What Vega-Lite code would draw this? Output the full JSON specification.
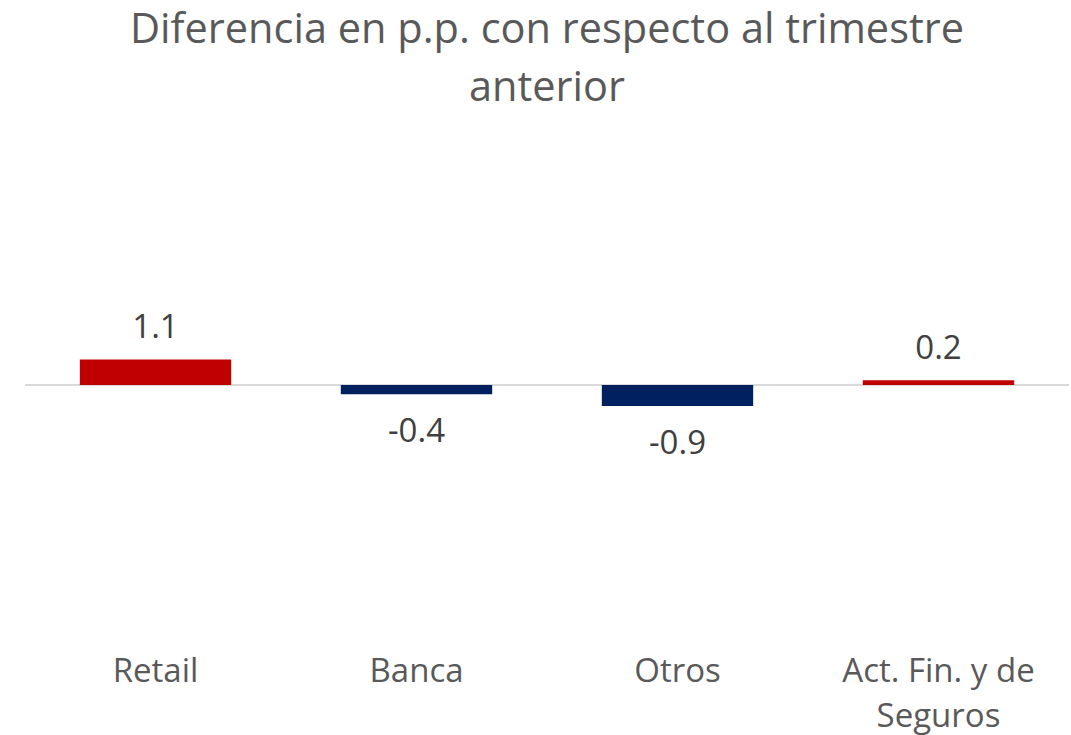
{
  "$schema": "https://vega.github.io/schema/vega-lite/v6.json",
  "width": 1044,
  "height": 464,
  "autosize": {"type": "none"},
  "padding": {"left": 25, "top": 153, "right": 2, "bottom": 118},
  "background": "white",
  "config": {"view": {"stroke": null}, "font": "Open Sans"},
  "title": {
    "text": ["Diferencia en p.p. con respecto al trimestre", "anterior"],
    "fontSize": 41.5,
    "font": "Open Sans",
    "fontWeight": "normal",
    "color": "#595959",
    "anchor": "middle",
    "lineHeight": 58,
    "baseline": "bottom",
    "offset": 2
  },
  "data": {
    "values": [
      {"categoria": "Retail", "valor": 1.1},
      {"categoria": "Banca", "valor": -0.4},
      {"categoria": "Otros", "valor": -0.9},
      {"categoria": "Act. Fin. y de Seguros", "valor": 0.2}
    ]
  },
  "encoding": {
    "x": {
      "field": "categoria",
      "type": "nominal",
      "sort": null,
      "scale": {"paddingInner": 0.42, "paddingOuter": 0.21},
      "axis": {
        "orient": "bottom",
        "title": null,
        "domain": false,
        "ticks": false,
        "labelAngle": 0,
        "labelFont": "Open Sans",
        "labelFontSize": 33,
        "labelColor": "#595959",
        "labelPadding": 38,
        "labelLimit": 400,
        "labelLineHeight": 45,
        "labelExpr": "datum.label == 'Act. Fin. y de Seguros' ? ['Act. Fin. y de', 'Seguros'] : datum.label"
      }
    }
  },
  "layer": [
    {
      "mark": {"type": "rule", "color": "#D9D9D9", "strokeWidth": 1.5},
      "encoding": {"y": {"datum": 0, "type": "quantitative", "scale": {"domain": [-10, 10], "nice": false}, "axis": null}, "x": null}
    },
    {
      "mark": {"type": "bar"},
      "encoding": {
        "y": {"field": "valor", "type": "quantitative", "scale": {"domain": [-10, 10], "nice": false}, "axis": null},
        "color": {"condition": {"test": "datum.valor > 0", "value": "#C00000"}, "value": "#002060"}
      }
    },
    {
      "transform": [{"filter": "datum.valor > 0"}],
      "mark": {"type": "text", "baseline": "alphabetic", "dy": -21, "fontSize": 33, "font": "Open Sans", "color": "#404040"},
      "encoding": {
        "y": {"field": "valor", "type": "quantitative", "scale": {"domain": [-10, 10], "nice": false}, "axis": null},
        "text": {"field": "valor", "type": "nominal"}
      }
    },
    {
      "transform": [{"filter": "datum.valor <= 0"}],
      "mark": {"type": "text", "baseline": "alphabetic", "dy": 48, "fontSize": 33, "font": "Open Sans", "color": "#404040"},
      "encoding": {
        "y": {"field": "valor", "type": "quantitative", "scale": {"domain": [-10, 10], "nice": false}, "axis": null},
        "text": {"field": "valor", "type": "nominal"}
      }
    }
  ]
}
